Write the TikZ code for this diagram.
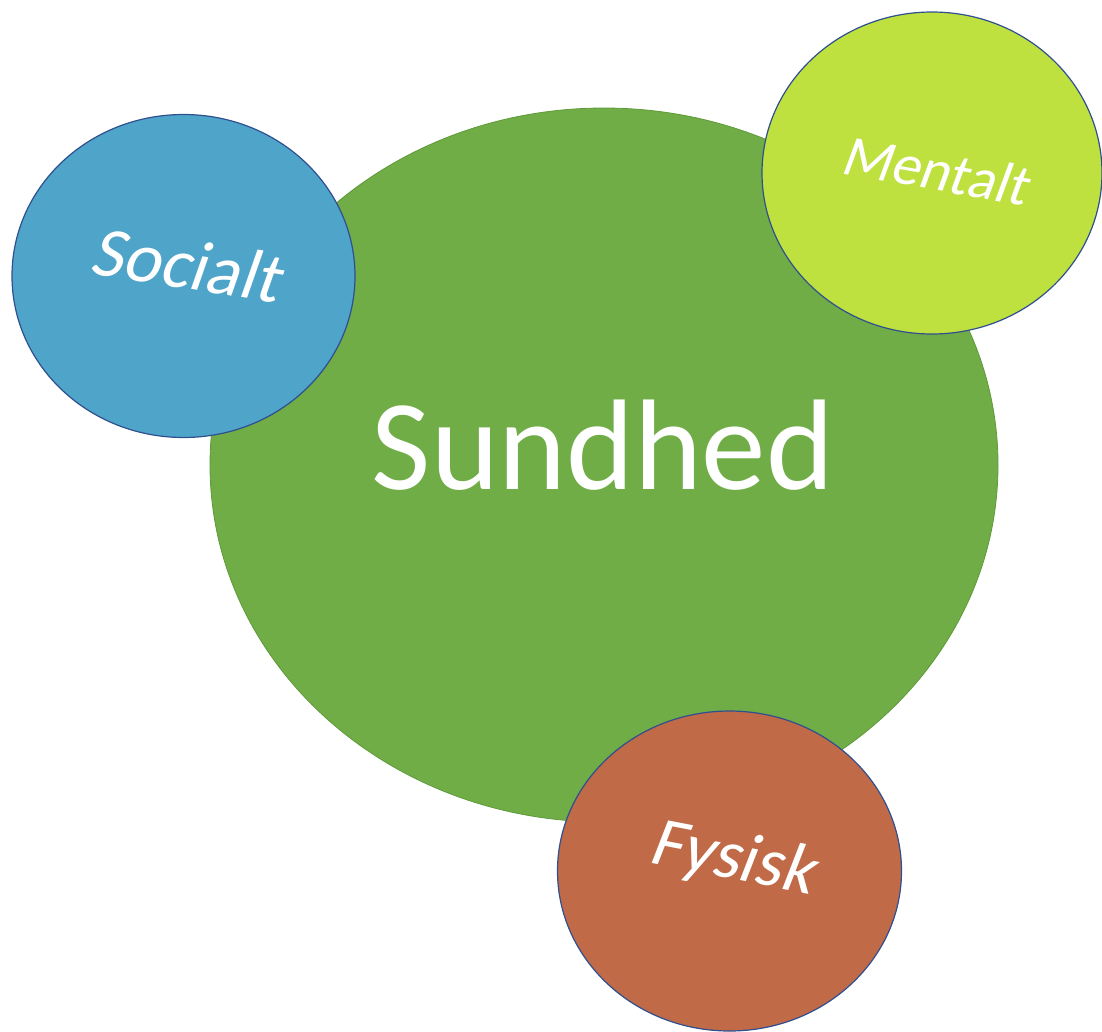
\documentclass[tikz,border=0pt]{standalone}
\usepackage{fontspec}
\setmainfont{Carlito}
\newfontfamily\slantfont[FakeSlant=0.18]{Carlito}
\usetikzlibrary{shapes.geometric}
\definecolor{cgreen}{HTML}{70AD47}
\definecolor{cgreenline}{HTML}{5E9A3A}
\definecolor{cblue}{HTML}{4FA4C9}
\definecolor{clime}{HTML}{BEE13F}
\definecolor{cbrown}{HTML}{C06A48}
\definecolor{cedge}{HTML}{2F4F8F}
\tikzset{
  blob/.style={ellipse, draw=cedge, line width=1.2pt, inner sep=0pt},
  lbl/.style={text=white, inner sep=0pt}
}
\begin{document}
\begin{tikzpicture}[x=1pt,y=-1pt]
\useasboundingbox (0,0) rectangle (1102,1031);
\node[ellipse, fill=cgreen, draw=cgreenline, line width=0.8pt, minimum width=788pt, minimum height=714pt, inner sep=0pt] (main) at (604,465) {};
\node[blob, fill=cblue, minimum width=343pt, minimum height=323pt] (soc) at (183.5,276) {};
\node[blob, fill=clime, minimum width=340pt, minimum height=322pt] (men) at (932,173) {};
\node[blob, fill=cbrown, minimum width=344pt, minimum height=320pt] (fys) at (729.5,871) {};
\node[text=white, font=\fontsize{129}{129}\selectfont, anchor=base, inner sep=0pt] (sund) at (603,489) {Sundhed};
\node[lbl, font=\slantfont\fontsize{71}{71}\selectfont, rotate=-9] (soct) at (186,264) {Socialt};
\node[lbl, font=\slantfont\fontsize{58}{58}\selectfont, rotate=-10] (ment) at (935,170) {Mentalt};
\node[lbl, font=\slantfont\fontsize{70}{70}\selectfont, rotate=-11] (fyst) at (732,860) {Fysisk};
\end{tikzpicture}
\end{document}
